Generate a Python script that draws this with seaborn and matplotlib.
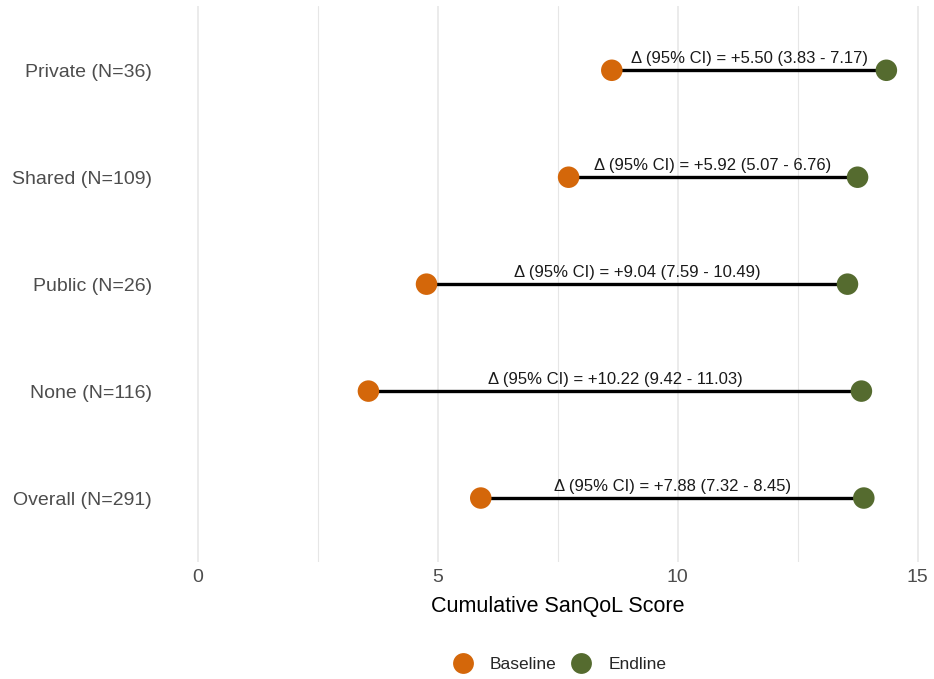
import matplotlib
matplotlib.use("Agg")
import matplotlib.pyplot as plt
from matplotlib.lines import Line2D
import seaborn as sns
import pandas as pd

# Mean cumulative SanQoL score by sanitation access, baseline vs endline
groups = ["Private (N=36)", "Shared (N=109)", "Public (N=26)", "None (N=116)", "Overall (N=291)"]
baseline = [8.63, 7.73, 4.77, 3.56, 5.90]
endline = [14.35, 13.75, 13.54, 13.83, 13.88]
delta_labels = [
    "Δ (95% CI) = +5.50 (3.83 - 7.17)",
    "Δ (95% CI) = +5.92 (5.07 - 6.76)",
    "Δ (95% CI) = +9.04 (7.59 - 10.49)",
    "Δ (95% CI) = +10.22 (9.42 - 11.03)",
    "Δ (95% CI) = +7.88 (7.32 - 8.45)",
]
x_ticks = [0, 5, 10, 15]
period_names = ["Baseline", "Endline"]
period_colors = {"Baseline": "#D4670A", "Endline": "#556B2F"}

sns.set_theme(style="white")
plt.rcParams["font.family"] = ["Liberation Sans", "DejaVu Sans"]

long = pd.DataFrame({
    "group": groups * 2,
    "score": baseline + endline,
    "period": ["Baseline"] * len(groups) + ["Endline"] * len(groups),
})
long["ypos"] = long["group"].map({g: i for i, g in enumerate(groups)})

fig = plt.figure(figsize=(9.34, 6.79), dpi=100)
ax = fig.add_axes([0.1745, 0.172, 0.8115, 0.819])

# vertical grid: major at ticks, minor halfway between
for v in [0, 2.5, 5, 7.5, 10, 12.5, 15]:
    ax.axvline(v, color="#e6e6e6", lw=1.1 if v % 5 == 0 else 0.8, zorder=0)

ypos = list(range(len(groups)))
ax.hlines(ypos, baseline, endline, color="black", lw=2.4, zorder=2)

sns.scatterplot(data=long, x="score", y="ypos", hue="period", palette=period_colors,
                hue_order=period_names, s=240, edgecolor="none", ax=ax, zorder=3,
                legend=False)

for i, lab in enumerate(delta_labels):
    ax.text((baseline[i] + endline[i]) / 2, i - 0.04, lab, ha="center", va="bottom",
            fontsize=12, color="#1a1a1a", zorder=4)

ax.set_xlim(-0.72, 15.07)
ax.set_ylim(len(groups) - 0.4, -0.6)
ax.set_xticks(x_ticks)
ax.set_xticklabels([str(t) for t in x_ticks])
ax.set_yticks(ypos)
ax.set_yticklabels(groups)
ax.tick_params(axis="both", length=0, labelsize=14, labelcolor="#4d4d4d", pad=5)
ax.tick_params(axis="y", pad=8)
ax.set_xlabel("Cumulative SanQoL Score", fontsize=15.5, color="black")
ax.xaxis.set_label_coords(0.521, -0.061)
ax.set_ylabel("")
for s in ax.spines.values():
    s.set_visible(False)

handles = [Line2D([], [], marker="o", ls="none", markersize=15, markerfacecolor=period_colors[p],
                  markeredgecolor="none", label=p) for p in period_names]
fig.legend(handles=handles, loc="center", bbox_to_anchor=(0.595, 0.022), ncol=2, frameon=False,
           fontsize=12.5, handletextpad=0.55, columnspacing=0.45)

fig.savefig("out.png", dpi=100)
